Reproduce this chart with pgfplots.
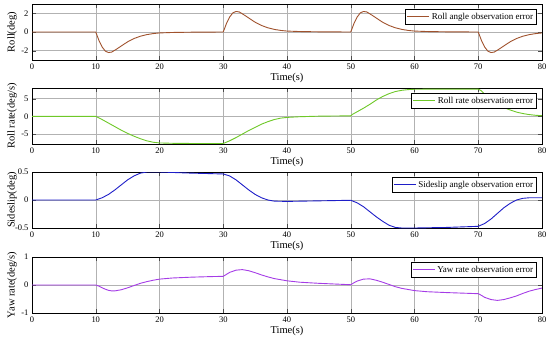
\documentclass[border=0pt]{standalone}
\usepackage{fontspec}
\setmainfont{Liberation Serif}
\usepackage{pgfplots}
\pgfplotsset{compat=1.18}
\definecolor{cRoll}{RGB}{160,82,45}
\definecolor{cRate}{RGB}{110,200,40}
\definecolor{cSide}{RGB}{30,30,200}
\definecolor{cYaw}{RGB}{165,60,230}
\pgfplotsset{
  panel/.style={
    scale only axis, width=510pt, height=56pt,
    xmin=0, xmax=80, xtick={0,10,...,80},
    grid=major, grid style={gray!60, line width=0.5pt},
    axis line style={black, line width=0.7pt},
    tick style={black!70},
    /pgf/number format/assume math mode=true,
    tick label style={font=\fontsize{8.5}{9}\selectfont},
    label style={font=\fontsize{10.5}{12}\selectfont},
    xlabel={Time(s)},
    xlabel style={yshift=3pt},
    ylabel style={at={(axis description cs:-0.039,0.5)}, rotate=0, anchor=center},
    legend style={at={(0.99,0.91)}, anchor=north east, draw=black, line width=0.5pt,
      font=\fontsize{9}{10.5}\selectfont, inner sep=1.5pt, row sep=0pt},
    legend cell align=left,
    legend image code/.code={\draw[#1, line width=0.9pt] (0pt,0pt) -- (22pt,0pt);},
  }
}
\begin{document}
\begin{tikzpicture}
\useasboundingbox (0,0) rectangle (550pt,-338pt);
\begin{axis}[panel, at={(32pt,-4pt)}, anchor=north west,
  ymin=-3, ymax=3, ytick={-2,0,2}, ylabel={Roll(deg)}]
\addplot[cRoll, line width=0.9pt] coordinates {
(0,0)(10,0)(10.5,-0.9)(11,-1.6)(11.5,-2.05)(12,-2.2)(12.5,-2.15)(13,-1.95)(14,-1.5)(15,-1.05)(16,-0.7)(17,-0.45)(18,-0.28)(19,-0.17)(20,-0.1)(22,-0.05)(25,-0.02)(30,0)
(30.5,0.9)(31,1.6)(31.5,2.05)(32,2.2)(32.5,2.15)(33,1.95)(34,1.5)(35,1.05)(36,0.7)(37,0.45)(38,0.28)(39,0.17)(40,0.1)(42,0.05)(45,0.02)(50,0)
(50.5,0.9)(51,1.6)(51.5,2.05)(52,2.2)(52.5,2.15)(53,1.95)(54,1.5)(55,1.05)(56,0.7)(57,0.45)(58,0.28)(59,0.17)(60,0.1)(62,0.05)(65,0.02)(70,0)
(70.5,-0.9)(71,-1.6)(71.5,-2.05)(72,-2.2)(72.5,-2.15)(73,-1.95)(74,-1.5)(75,-1.05)(76,-0.7)(77,-0.45)(78,-0.28)(79,-0.17)(80,-0.1)
};
\addlegendentry{Roll angle observation error}
\end{axis}
\begin{axis}[panel, at={(32pt,-88pt)}, anchor=north west,
  ymin=-7.8, ymax=8, ytick={-5,0,5}, ylabel={Roll rate(deg/s)}]
\addplot[cRate, line width=0.9pt] coordinates {
(0,0)(10,0)(11,-0.9)(12,-1.9)(13,-2.9)(14,-3.9)(15,-4.8)(16,-5.6)(17,-6.3)(18,-6.9)(19,-7.3)(20,-7.5)(22,-7.6)(25,-7.65)(30,-7.65)
(31,-6.9)(32,-6.0)(33,-5.0)(34,-4.0)(35,-3.1)(36,-2.2)(37,-1.5)(38,-0.9)(39,-0.5)(40,-0.3)(42,-0.1)(45,0.05)(50,0.15)
(50.3,0.6)(51,1.3)(52,2.3)(53,3.4)(54,4.6)(55,5.6)(56,6.4)(57,7.0)(58,7.35)(59,7.55)(60,7.65)(65,7.7)(70,7.7)
(70.5,7.2)(71,6.2)(72,4.8)(73,3.5)(74,2.5)(75,1.8)(76,1.2)(77,0.8)(78,0.5)(79,0.3)(80,0.2)
};
\addlegendentry{Roll rate observation error}
\end{axis}
\begin{axis}[panel, at={(32pt,-172pt)}, anchor=north west,
  ymin=-0.5, ymax=0.5, ytick={-0.5,0,0.5}, ylabel={Sideslip(deg)}]
\addplot[cSide, line width=0.9pt] coordinates {
(0,0)(10,0)(11,0.04)(12,0.1)(13,0.18)(14,0.27)(15,0.36)(16,0.43)(17,0.48)(18,0.5)(20,0.5)(25,0.48)(30,0.465)
(31,0.43)(32,0.36)(33,0.27)(34,0.18)(35,0.1)(36,0.04)(37,0.0)(38,-0.02)(40,-0.025)(45,-0.015)(50,-0.005)
(51,-0.05)(52,-0.12)(53,-0.21)(54,-0.3)(55,-0.38)(56,-0.45)(57,-0.49)(58,-0.5)(60,-0.5)(65,-0.49)(70,-0.47)
(71,-0.42)(72,-0.34)(73,-0.24)(74,-0.14)(75,-0.06)(76,0.0)(77,0.03)(78,0.04)(80,0.04)
};
\addlegendentry{Sideslip angle observation error}
\end{axis}
\begin{axis}[panel, at={(32pt,-257pt)}, anchor=north west,
  ymin=-1, ymax=1, ytick={-1,0,1}, ylabel={Yaw rate(deg/s)}]
\addplot[cYaw, line width=0.9pt] coordinates {
(0,0)(10,0)(10.5,-0.04)(11,-0.1)(11.5,-0.15)(12,-0.19)(12.5,-0.21)(13,-0.21)(14,-0.17)(15,-0.1)(16,-0.02)(17,0.06)(18,0.12)(19,0.17)(20,0.21)(22,0.25)(25,0.28)(28,0.3)(30,0.31)
(30.5,0.38)(31,0.45)(32,0.53)(33,0.55)(34,0.51)(35,0.44)(36,0.36)(37,0.29)(38,0.23)(40,0.15)(42,0.1)(45,0.06)(50,0.01)
(50.5,0.08)(51,0.14)(52,0.21)(53,0.22)(54,0.17)(55,0.1)(56,0.02)(57,-0.06)(58,-0.12)(60,-0.2)(62,-0.24)(65,-0.27)(70,-0.31)
(70.5,-0.37)(71,-0.44)(72,-0.52)(73,-0.55)(74,-0.52)(75,-0.46)(76,-0.39)(77,-0.3)(78,-0.22)(79,-0.16)(80,-0.11)
};
\addlegendentry{Yaw rate observation error}
\end{axis}
\end{tikzpicture}
\end{document}
